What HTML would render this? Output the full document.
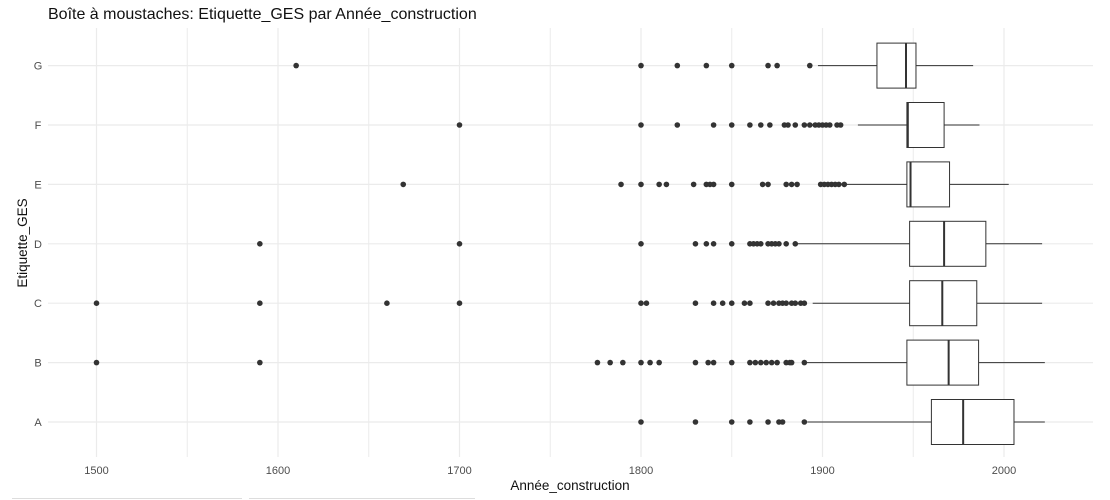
<!DOCTYPE html>
<html><head><meta charset="utf-8"><style>
body{margin:0;background:#fff;font-family:"Liberation Sans",Arial,sans-serif}
svg{display:block}
</style></head><body>
<svg id="chart" width="1110" height="500">
<text x="48" y="19" font-size="16" fill="#111">Boîte à moustaches: Etiquette_GES par Année_construction</text>
<text transform="translate(27,243) rotate(-90)" text-anchor="middle" font-size="13.5" fill="#111">Etiquette_GES</text>
<text x="570" y="490" text-anchor="middle" font-size="13.5" fill="#111">Année_construction</text>
<g id="grid"></g><g id="marks"></g><g id="ticks"></g>
<line x1="12" y1="498.5" x2="242" y2="498.5" stroke="#ddd"/>
<line x1="249" y1="498.5" x2="475" y2="498.5" stroke="#ddd"/>
</svg>
<script>
const categories=["A","B","C","D","E","F","G"];
const q1=[1960,1946.5,1948,1948,1946.5,1946.5,1930];
const med=[1977.5,1969.5,1966,1967,1948.5,1947,1946];
const q3=[2005.5,1986,1985,1990,1970,1967,1951.5];
const whLo=[1891.6,1889,1894.6,1886,1913,1919.5,1897.5];
const whHi=[2022.5,2022.5,2021,2021,2002.6,1986.5,1983];
const outA=[1800,1830,1850,1860,1870,1876,1878,1890];
const outB=[1500,1590,1776,1783,1790,1800,1805,1810,1830,1837,1840,1850,1860,1863,1866,1869,1872,1875,1880,1882,1883,1890];
const outC=[1500,1590,1660,1700,1800,1803,1830,1840,1845,1850,1857,1860,1870,1873,1876,1878,1880,1883,1885,1888,1890];
const outD=[1590,1700,1800,1830,1836,1840,1850,1860,1862,1864,1866,1870,1872,1874,1876,1880,1885];
const outE=[1669,1789,1800,1810,1814,1829,1836,1838,1840,1850,1867,1870,1880,1883,1886,1899,1901,1903,1905,1907,1909,1912];
const outF=[1700,1800,1820,1840,1850,1860,1866,1871,1879,1881,1885,1890,1893,1896,1898,1900,1902,1904,1908,1910];
const outG=[1610,1800,1820,1836,1850,1870,1875,1893];
const outliers=[outA,outB,outC,outD,outE,outF,outG];
const xTicks=[1500,1600,1700,1800,1900,2000];
const xMinor=[1550,1650,1750,1850,1950,2050];

const X=v=>641+(v-1800)*1.815;
const Y=i=>422-i*59.4;
const NS="http://www.w3.org/2000/svg";
function mk(p,t,a){const e=document.createElementNS(NS,t);for(const k in a)e.setAttribute(k,a[k]);p.appendChild(e);return e;}
const grid=document.getElementById('grid'),marks=document.getElementById('marks'),ticks=document.getElementById('ticks');
xMinor.forEach(v=>{if(X(v)<1093){const l=mk(grid,'line',{x1:X(v),x2:X(v),y1:28,y2:457,stroke:'#ebebeb','stroke-width':1});

}});
xTicks.forEach(v=>{const l=mk(grid,'line',{x1:X(v),x2:X(v),y1:28,y2:457,stroke:'#ebebeb','stroke-width':1.2});


const t=mk(ticks,'text',{x:X(v),y:474,'text-anchor':'middle','font-size':11,fill:'#4d4d4d'});t.textContent=v;

});
categories.forEach((c,i)=>{const y=Y(i);
const g=mk(grid,'line',{x1:48,x2:1093,y1:y,y2:y,stroke:'#ebebeb','stroke-width':1.2});


const t=mk(ticks,'text',{x:38,y:y+4,'text-anchor':'middle','font-size':11,fill:'#4d4d4d'});t.textContent=c;


const grp=mk(marks,'g',{});


mk(grp,'line',{x1:X(whLo[i]),x2:X(q1[i]),y1:y,y2:y,stroke:'#333','stroke-width':1});
mk(grp,'line',{x1:X(q3[i]),x2:X(whHi[i]),y1:y,y2:y,stroke:'#333','stroke-width':1});
mk(grp,'rect',{x:X(q1[i]),y:y-22.5,width:X(q3[i])-X(q1[i]),height:45,fill:'#fff',stroke:'#333','stroke-width':1});
mk(grp,'line',{x1:X(med[i]),x2:X(med[i]),y1:y-22.5,y2:y+22.5,stroke:'#333','stroke-width':2});
outliers[i].forEach(v=>{const d=mk(grp,'circle',{cx:X(v),cy:y,r:2.8,fill:'#333'});

});
});
</script>
</body></html>
